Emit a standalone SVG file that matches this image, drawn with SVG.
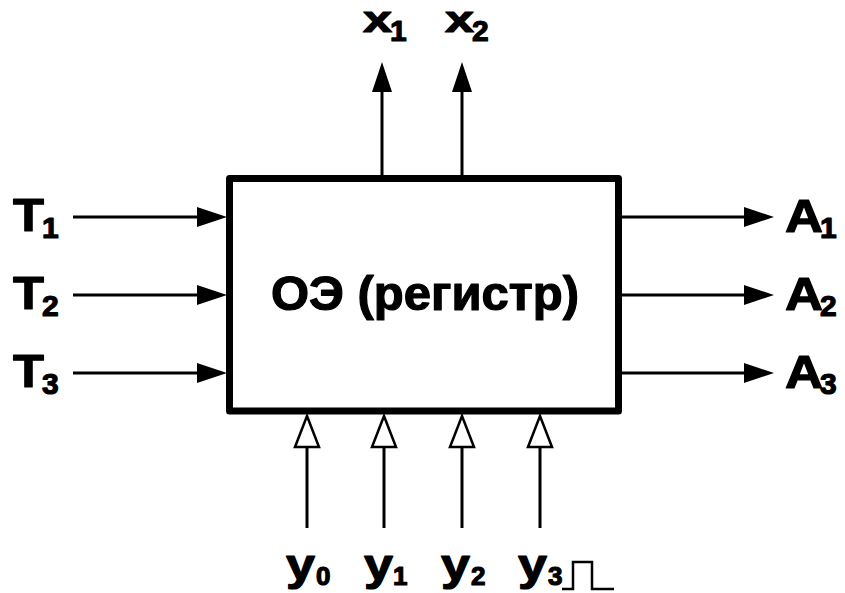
<svg xmlns="http://www.w3.org/2000/svg" width="845" height="593" viewBox="0 0 845 593">
<style>
.lbl{font-family:"Liberation Sans",Arial,sans-serif;font-weight:bold;fill:#000;stroke:#000;stroke-width:1.2;stroke-linejoin:round}
.big{font-size:47px}
.sub{font-size:30px}
.xl{font-size:36px}
.yl{font-size:44px}
.ysub{font-size:26px}
.ln{stroke:#000;stroke-width:3;fill:none}
</style>
<defs>
<marker id="solid" markerUnits="userSpaceOnUse" markerWidth="30" markerHeight="20" refX="0" refY="10" orient="auto" overflow="visible">
<path d="M0,0 L30,10 L0,20 Z" fill="#000"/>
</marker>
<marker id="hollow" markerUnits="userSpaceOnUse" markerWidth="34" markerHeight="26" refX="0" refY="12" orient="auto" overflow="visible">
<path d="M0,0 L31,12 L0,24 Z" fill="#fff" stroke="#000" stroke-width="2.5" stroke-linejoin="miter"/>
</marker>
</defs>
<rect width="845" height="593" fill="#fff"/>
<g id="connectors">
<line class="ln" x1="73" y1="217" x2="197" y2="217" marker-end="url(#solid)"/>
<line class="ln" x1="73" y1="295" x2="197" y2="295" marker-end="url(#solid)"/>
<line class="ln" x1="73" y1="373" x2="197" y2="373" marker-end="url(#solid)"/>
<line class="ln" x1="622" y1="217" x2="744" y2="217" marker-end="url(#solid)"/>
<line class="ln" x1="622" y1="295" x2="744" y2="295" marker-end="url(#solid)"/>
<line class="ln" x1="622" y1="373" x2="744" y2="373" marker-end="url(#solid)"/>
<line class="ln" x1="382" y1="176" x2="382" y2="92" marker-end="url(#solid)"/>
<line class="ln" x1="462" y1="176" x2="462" y2="92" marker-end="url(#solid)"/>
<line class="ln" x1="307" y1="528" x2="307" y2="447" marker-end="url(#hollow)"/>
<line class="ln" x1="384" y1="528" x2="384" y2="447" marker-end="url(#hollow)"/>
<line class="ln" x1="462" y1="528" x2="462" y2="447" marker-end="url(#hollow)"/>
<line class="ln" x1="540" y1="528" x2="540" y2="447" marker-end="url(#hollow)"/>
</g>
<g id="box">
<rect x="229.5" y="178.5" width="389" height="232.5" fill="none" stroke="#000" stroke-width="7" stroke-linejoin="round"/>
<text class="lbl" x="425" y="310" font-size="48" text-anchor="middle" textLength="308" lengthAdjust="spacingAndGlyphs">ОЭ (регистр)</text>
</g>
<g id="inputs-T">
<text class="lbl big" x="13" y="231" textLength="31" lengthAdjust="spacingAndGlyphs">T</text><text class="lbl sub" x="42" y="238">1</text>
<text class="lbl big" x="13" y="309" textLength="31" lengthAdjust="spacingAndGlyphs">T</text><text class="lbl sub" x="42" y="316">2</text>
<text class="lbl big" x="13" y="387" textLength="31" lengthAdjust="spacingAndGlyphs">T</text><text class="lbl sub" x="42" y="394">3</text>
</g>
<g id="outputs-A">
<text class="lbl big" x="785" y="232" textLength="38" lengthAdjust="spacingAndGlyphs">A</text><text class="lbl sub" x="820" y="238">1</text>
<text class="lbl big" x="785" y="310" textLength="38" lengthAdjust="spacingAndGlyphs">A</text><text class="lbl sub" x="820" y="316">2</text>
<text class="lbl big" x="785" y="388" textLength="38" lengthAdjust="spacingAndGlyphs">A</text><text class="lbl sub" x="820" y="394">3</text>
</g>
<g id="outputs-x">
<text class="lbl xl" x="363" y="32" textLength="29" lengthAdjust="spacingAndGlyphs">x</text><text class="lbl sub" x="390" y="41">1</text>
<text class="lbl xl" x="445" y="32" textLength="29" lengthAdjust="spacingAndGlyphs">x</text><text class="lbl sub" x="472" y="41">2</text>
</g>
<g id="inputs-y">
<text class="lbl yl" x="286" y="580" textLength="29" lengthAdjust="spacingAndGlyphs">y</text><text class="lbl ysub" x="316" y="585">0</text>
<text class="lbl yl" x="364" y="580" textLength="29" lengthAdjust="spacingAndGlyphs">y</text><text class="lbl ysub" x="393" y="585">1</text>
<text class="lbl yl" x="441" y="580" textLength="29" lengthAdjust="spacingAndGlyphs">y</text><text class="lbl ysub" x="471" y="585">2</text>
<text class="lbl yl" x="518" y="580" textLength="29" lengthAdjust="spacingAndGlyphs">y</text><text class="lbl ysub" x="548" y="585">3</text>
<path d="M562,589 H573 V562 H592 V589 H614" fill="none" stroke="#000" stroke-width="2.5"/>
</g>
</svg>
